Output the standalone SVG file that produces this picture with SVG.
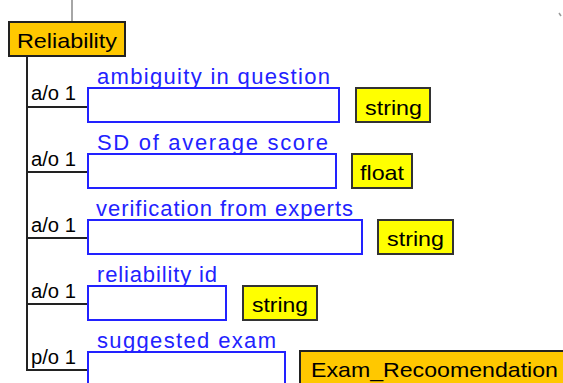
<svg xmlns="http://www.w3.org/2000/svg" width="563" height="383" viewBox="0 0 563 383">
<style>
text{font-family:"Liberation Sans",Arial,sans-serif;font-size:21px}
.lbl{fill:#2222ff;font-size:22px}
.slot{fill:#fff;stroke:#2222ff;stroke-width:2}
.type{fill:#ffff00;stroke:#333;stroke-width:2}
.cls{fill:#ffc800;stroke:#222;stroke-width:2}
.card{fill:#000;font-size:20px}
.conn{stroke:#222;stroke-width:2;fill:none}
</style>
<rect width="563" height="383" fill="#fff"/>
<g id="connectors">
<path d="M72 0V21" stroke="#888" stroke-width="1.5" fill="none"/>
<path class="conn" d="M27 57V371"/>
<path class="conn" d="M27 107H87M27 172H87M27 238H87M27 304H87M27 370H87"/>
<path d="M559 13l2 3" stroke="#999" stroke-width="1.5"/>
</g>
<g id="reliability">
<rect class="cls" x="9" y="22" width="116" height="34"/>
<text x="17" y="48" textLength="100" lengthAdjust="spacingAndGlyphs" font-size="22">Reliability</text>
</g>
<g id="ambiguity">
<text class="card" x="31" y="100" textLength="45" lengthAdjust="spacingAndGlyphs">a/o 1</text>
<text class="lbl" x="97" y="84" textLength="233" lengthAdjust="spacing">ambiguity  in  question</text>
<rect class="slot" x="88" y="88" width="251" height="34"/>
<rect class="type" x="356" y="88" width="74" height="34"/>
<text x="365" y="115" textLength="57" lengthAdjust="spacingAndGlyphs">string</text>
</g>
<g id="sd">
<text class="card" x="31" y="166" textLength="45" lengthAdjust="spacingAndGlyphs">a/o 1</text>
<text class="lbl" x="97" y="150" textLength="231" lengthAdjust="spacing">SD  of  average  score</text>
<rect class="slot" x="88" y="154" width="248" height="34"/>
<rect class="type" x="352" y="154" width="60" height="34"/>
<text x="360" y="180" textLength="44" lengthAdjust="spacingAndGlyphs">float</text>
</g>
<g id="verification">
<text class="card" x="31" y="232" textLength="45" lengthAdjust="spacingAndGlyphs">a/o 1</text>
<text class="lbl" x="96" y="216" textLength="257" lengthAdjust="spacing">verification  from  experts</text>
<rect class="slot" x="88" y="220" width="274" height="34"/>
<rect class="type" x="378" y="220" width="75" height="34"/>
<text x="387" y="246" textLength="57" lengthAdjust="spacingAndGlyphs">string</text>
</g>
<g id="reliability_id">
<text class="card" x="31" y="298" textLength="45" lengthAdjust="spacingAndGlyphs">a/o 1</text>
<text class="lbl" x="97" y="282" textLength="120" lengthAdjust="spacing">reliability  id</text>
<rect class="slot" x="88" y="286" width="138" height="34"/>
<rect class="type" x="243" y="286" width="74" height="34"/>
<text x="252" y="312" textLength="56" lengthAdjust="spacingAndGlyphs">string</text>
</g>
<g id="suggested_exam">
<text class="card" x="31" y="364" textLength="45" lengthAdjust="spacingAndGlyphs">p/o 1</text>
<text class="lbl" x="97" y="348" textLength="179" lengthAdjust="spacing">suggested  exam</text>
<rect class="slot" x="88" y="352" width="197" height="40"/>
<rect class="cls" x="300" y="351" width="275" height="40"/>
<text x="311" y="377" textLength="247" lengthAdjust="spacingAndGlyphs">Exam_Recoomendation</text>
</g>
</svg>
